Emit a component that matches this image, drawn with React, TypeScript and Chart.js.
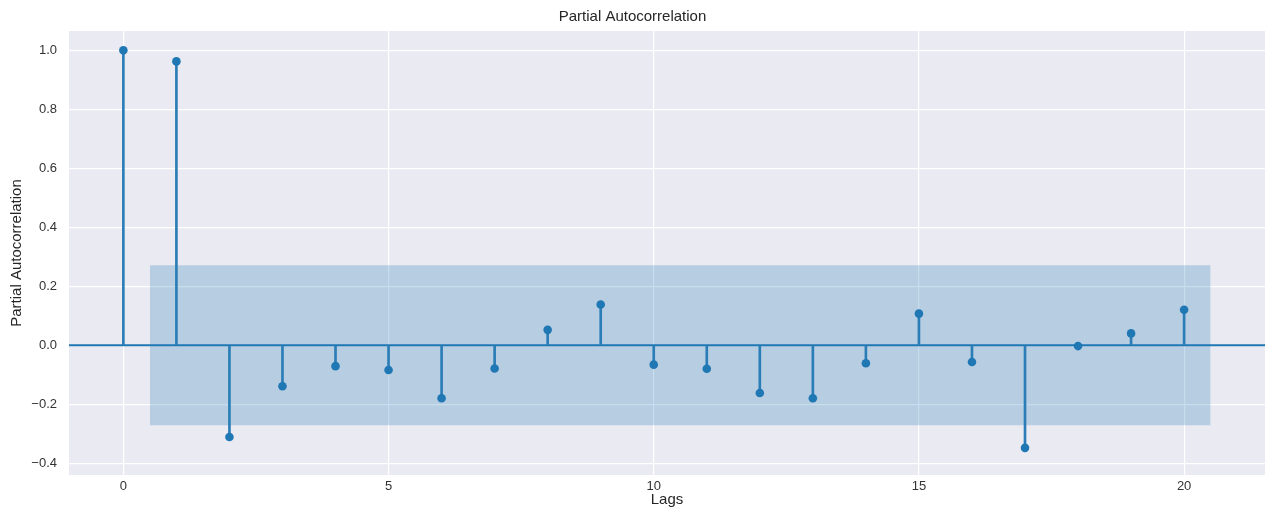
import React, { useEffect, useRef } from "react";
import { Chart, registerables } from "chart.js";

Chart.register(...registerables);

const lags = [0, 1, 2, 3, 4, 5, 6, 7, 8, 9, 10, 11, 12, 13, 14, 15, 16, 17, 18, 19, 20];
const pacfValues = [
  1.0, 0.962, -0.311, -0.139, -0.071, -0.084, -0.18, -0.079, 0.052, 0.138, -0.066,
  -0.08, -0.162, -0.18, -0.061, 0.107, -0.057, -0.348, -0.003, 0.04, 0.12,
];
const confStart = 0.5;
const confEnd = 20.5;
const confLimit = 0.271;
const xTicks = [0, 5, 10, 15, 20];
const yTicks = [-0.4, -0.2, 0.0, 0.2, 0.4, 0.6, 0.8, 1.0];
const xMin = -1.025;
const xMax = 21.525;
const yMin = -0.44;
const yMax = 1.065;

const BLUE = "#1f77b4";
const FONT = "'Liberation Sans', Arial, Helvetica, sans-serif";
const TEXT = "#333333";

const fmt = (v: number) => {
  const s = Math.abs(v).toFixed(1);
  return v < -1e-9 ? "\u2212" + s : s;
};

const bgPlugin = {
  id: "plotBg",
  beforeDraw(chart: any) {
    const { ctx, chartArea } = chart;
    ctx.save();
    ctx.fillStyle = "#ffffff";
    ctx.fillRect(0, 0, chart.width, chart.height);
    ctx.fillStyle = "#eaeaf2";
    ctx.fillRect(chartArea.left, chartArea.top, chartArea.right - chartArea.left, chartArea.bottom - chartArea.top);
    ctx.restore();
  },
};

export default function App() {
  const ref = useRef<HTMLCanvasElement | null>(null);

  useEffect(() => {
    document.body.style.margin = "0";
    const canvas = ref.current;
    if (!canvas) return;
    const chart = new Chart(canvas, {
      type: "bar",
      data: {
        datasets: [
          {
            type: "scatter",
            data: lags.map((l, i) => ({ x: l, y: pacfValues[i] })),
            backgroundColor: BLUE,
            borderColor: BLUE,
            borderWidth: 0,
            pointRadius: 4.3,
          } as any,
          {
            type: "bar",
            data: lags.map((l, i) => ({ x: l, y: pacfValues[i] })),
            backgroundColor: "#2a7db6",
            borderWidth: 0,
            barThickness: 2,
            grouped: false,
          } as any,
          {
            type: "line",
            data: [
              { x: xMin, y: 0 },
              { x: xMax, y: 0 },
            ],
            borderColor: BLUE,
            borderWidth: 2,
            pointRadius: 0,
            fill: false,
          } as any,
          {
            type: "line",
            data: [
              { x: confStart, y: confLimit },
              { x: confEnd, y: confLimit },
            ],
            borderWidth: 0,
            borderColor: "rgba(0,0,0,0)",
            pointRadius: 0,
            backgroundColor: "rgba(31,119,180,0.25)",
            fill: "+1",
          } as any,
          {
            type: "line",
            data: [
              { x: confStart, y: -confLimit },
              { x: confEnd, y: -confLimit },
            ],
            borderWidth: 0,
            borderColor: "rgba(0,0,0,0)",
            pointRadius: 0,
            fill: false,
          } as any,
        ],
      },
      options: {
        animation: false,
        responsive: false,
        maintainAspectRatio: false,
        layout: { padding: { left: 0, right: 8, top: 0, bottom: 0 } },
        plugins: {
          legend: { display: false },
          tooltip: { enabled: false },
          title: {
            display: true,
            text: "Partial Autocorrelation",
            color: "#262626",
            font: { family: FONT, size: 15, weight: "normal", lineHeight: 1.2 },
            padding: { top: 8, bottom: 5 },
          },
        },
        scales: {
          x: {
            type: "linear",
            min: xMin,
            max: xMax,
            offset: false,
            border: { display: false },
            grid: { color: "#ffffff", lineWidth: 1.2, drawTicks: false, offset: false },
            afterBuildTicks: (axis: any) => {
              axis.ticks = xTicks.map((v) => ({ value: v }));
            },
            afterFit: (axis: any) => {
              axis.height = 33;
            },
            ticks: {
              color: TEXT,
              font: { family: FONT, size: 13 },
              padding: 4,
              maxRotation: 0,
              autoSkip: false,
              callback: (v: any) => String(v),
            },
            title: {
              display: true,
              text: "Lags",
              color: "#262626",
              font: { family: FONT, size: 15, lineHeight: 1 },
              padding: { top: 0, bottom: 0.5 },
            },
          },
          y: {
            type: "linear",
            min: yMin,
            max: yMax,
            border: { display: false },
            grid: { color: "#ffffff", lineWidth: 1.2, drawTicks: false },
            afterBuildTicks: (axis: any) => {
              axis.ticks = yTicks.map((v) => ({ value: v }));
            },
            afterFit: (axis: any) => {
              axis.width = 69;
            },
            ticks: {
              color: TEXT,
              font: { family: FONT, size: 13 },
              padding: 12,
              autoSkip: false,
              callback: (v: any) => fmt(Number(v)),
            },
            title: {
              display: true,
              text: "Partial Autocorrelation",
              color: "#262626",
              font: { family: FONT, size: 15, lineHeight: 1 },
              padding: { top: 9.5, bottom: 0 },
            },
          },
        },
      },
      plugins: [bgPlugin],
    } as any);
    return () => chart.destroy();
  }, []);

  return (
    <div style={{ width: 1273, height: 508 }}>
      <canvas ref={ref} width={1273} height={508} style={{ display: "block", width: 1273, height: 508 }} />
    </div>
  );
}
